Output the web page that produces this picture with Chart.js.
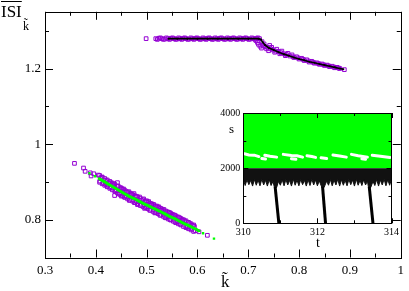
<!DOCTYPE html>
<html>
<head>
<meta charset="utf-8">
<script src="https://cdn.jsdelivr.net/npm/chart.js@4/dist/chart.umd.min.js"></script>
<style>
  body { margin: 0; background: #fff; }
  #wrap { position: relative; width: 409px; height: 291px; font-family: 'Liberation Serif', serif; }
  canvas { position: absolute; }
  .lbl { position: absolute; white-space: nowrap; color: #000; line-height: 1; }
</style>
</head>
<body>
<div id="wrap">
  <canvas id="main" width="409" height="291" style="left:0;top:0"></canvas>
  <canvas id="inset" width="184" height="146" style="left:218px;top:104px"></canvas>
  <div class="lbl" style="left:1px;top:3px;font-size:17px"><span style="text-decoration:overline">ISI</span></div>
  <div class="lbl" style="left:23px;top:20px;font-size:12px">k̃</div>
  <div class="lbl" style="left:221px;top:273px;font-size:17px">k̃</div>
  <div class="lbl" style="left:229px;top:122px;font-size:13px">s</div>
  <div class="lbl" style="left:316px;top:236px;font-size:14px">t</div>
</div>
<script>
// main axes
const xMajor = [0.3, 0.4, 0.5, 0.6, 0.7, 0.8, 0.9, 1];
const xMinor = [0.35, 0.45, 0.55, 0.65, 0.75, 0.85, 0.95];
const yMajor = [0.8, 1, 1.2];
const yMinor = [0.9, 1.1, 1.3];

// upper branch (k~, ISI)
const upperPurple = [
  [0.499, 1.279],
  [0.518, 1.279], [0.521, 1.277], [0.524, 1.28], [0.527, 1.281], [0.53, 1.279], [0.533, 1.277],
  [0.536, 1.278], [0.539, 1.281], [0.542, 1.279], [0.545, 1.277], [0.548, 1.28], [0.551, 1.281],
  [0.554, 1.279], [0.557, 1.277], [0.56, 1.278], [0.563, 1.281], [0.566, 1.279], [0.569, 1.277],
  [0.572, 1.28], [0.575, 1.281], [0.578, 1.279], [0.581, 1.277], [0.584, 1.278], [0.587, 1.281],
  [0.59, 1.279], [0.593, 1.277], [0.596, 1.28], [0.599, 1.281], [0.602, 1.279], [0.605, 1.277],
  [0.608, 1.278], [0.611, 1.281], [0.614, 1.279], [0.617, 1.277], [0.62, 1.28], [0.623, 1.281],
  [0.626, 1.279], [0.629, 1.277], [0.632, 1.278], [0.635, 1.281], [0.638, 1.279], [0.641, 1.277],
  [0.644, 1.28], [0.647, 1.281], [0.65, 1.279], [0.653, 1.277], [0.656, 1.278], [0.659, 1.281],
  [0.662, 1.279], [0.665, 1.277], [0.668, 1.28], [0.671, 1.281], [0.674, 1.279], [0.677, 1.277],
  [0.68, 1.278], [0.683, 1.281], [0.686, 1.279], [0.689, 1.277], [0.692, 1.28], [0.695, 1.281],
  [0.698, 1.279], [0.701, 1.277], [0.704, 1.278], [0.707, 1.281], [0.71, 1.279], [0.713, 1.277],
  [0.716, 1.28], [0.719, 1.281], [0.722, 1.279],
  [0.715, 1.274], [0.718, 1.269], [0.72, 1.264], [0.723, 1.259], [0.726, 1.254], [0.727, 1.271],
  [0.731, 1.265], [0.733, 1.258], [0.736, 1.252], [0.74, 1.247], [0.742, 1.261], [0.746, 1.256],
  [0.749, 1.249], [0.752, 1.243], [0.756, 1.251], [0.759, 1.245], [0.762, 1.239], [0.766, 1.246],
  [0.77, 1.239], [0.773, 1.234], [0.778, 1.24], [0.782, 1.233], [0.786, 1.236], [0.79, 1.229],
  [0.795, 1.231], [0.8, 1.225], [0.805, 1.227], [0.81, 1.221], [0.815, 1.223], [0.82, 1.217],
  [0.825, 1.219], [0.83, 1.214], [0.835, 1.215], [0.84, 1.211], [0.845, 1.212], [0.85, 1.208],
  [0.855, 1.209], [0.86, 1.205], [0.865, 1.206], [0.87, 1.202], [0.875, 1.203], [0.88, 1.2],
  [0.889, 1.197],
  [0.729, 1.26], [0.738, 1.256], [0.744, 1.252], [0.754, 1.246], [0.764, 1.242], [0.775, 1.237],
  [0.788, 1.231], [0.798, 1.228], [0.808, 1.224], [0.818, 1.22], [0.828, 1.216], [0.838, 1.213],
  [0.848, 1.21], [0.858, 1.207], [0.868, 1.204], [0.878, 1.201]
];
const upperBlack = [
  [0.543, 1.279], [0.56, 1.279], [0.58, 1.279], [0.6, 1.279], [0.62, 1.279], [0.64, 1.279],
  [0.66, 1.279], [0.68, 1.279], [0.7, 1.279], [0.72, 1.279], [0.725, 1.277], [0.728, 1.27],
  [0.733, 1.262], [0.74, 1.255], [0.75, 1.249], [0.76, 1.243], [0.77, 1.238], [0.78, 1.234],
  [0.79, 1.229], [0.8, 1.225], [0.81, 1.222], [0.82, 1.218], [0.83, 1.215], [0.84, 1.212],
  [0.85, 1.209], [0.86, 1.206], [0.87, 1.203], [0.88, 1.2], [0.887, 1.198]
];

// lower branch
const lowerGreenLine = [
  [0.406, 0.909], [0.415, 0.902], [0.425, 0.894], [0.435, 0.886], [0.445, 0.878], [0.455, 0.87],
  [0.465, 0.8625], [0.475, 0.856], [0.485, 0.849], [0.495, 0.842], [0.505, 0.836], [0.515, 0.829],
  [0.525, 0.823], [0.535, 0.816], [0.545, 0.809], [0.555, 0.803], [0.565, 0.796], [0.575, 0.789],
  [0.585, 0.783], [0.595, 0.776], [0.604, 0.77]
];
const lowerGreenDots = [[0.3875, 0.923], [0.3985, 0.915], [0.611, 0.764], [0.6325, 0.75]];
const lowerPurple = [
  [0.358, 0.949], [0.3758, 0.9367], [0.379, 0.928], [0.389, 0.924], [0.3907, 0.9157], [0.396, 0.9215],
  [0.4425, 0.898], [0.437, 0.864], [0.45, 0.8625], [0.433, 0.892], [0.603, 0.768], [0.6195, 0.7587],
  [0.405, 0.918], [0.408, 0.902], [0.412, 0.912], [0.415, 0.897], [0.42, 0.905], [0.422, 0.889],
  [0.428, 0.9], [0.43, 0.884], [0.436, 0.895], [0.438, 0.876], [0.444, 0.889], [0.446, 0.868],
  [0.45, 0.884], [0.455, 0.881], [0.456, 0.86], [0.46, 0.874], [0.465, 0.874], [0.466, 0.851],
  [0.47, 0.868], [0.475, 0.869], [0.476, 0.845], [0.48, 0.862], [0.482, 0.84], [0.486, 0.86],
  [0.488, 0.838], [0.494, 0.855], [0.496, 0.83], [0.5, 0.85], [0.504, 0.848], [0.506, 0.825],
  [0.51, 0.842], [0.514, 0.84], [0.516, 0.818], [0.52, 0.836], [0.524, 0.834], [0.526, 0.812],
  [0.53, 0.828], [0.534, 0.827], [0.536, 0.806], [0.54, 0.821], [0.545, 0.819], [0.546, 0.8],
  [0.55, 0.814], [0.555, 0.812], [0.556, 0.794], [0.56, 0.807], [0.565, 0.805], [0.566, 0.788],
  [0.57, 0.8], [0.575, 0.797], [0.577, 0.782], [0.585, 0.79], [0.587, 0.777], [0.594, 0.782],
  [0.596, 0.771],
  [0.41, 0.911], [0.42, 0.893], [0.43, 0.897], [0.44, 0.877], [0.45, 0.882], [0.46, 0.862],
  [0.47, 0.866], [0.48, 0.848], [0.49, 0.851], [0.5, 0.834], [0.51, 0.839], [0.52, 0.82],
  [0.53, 0.825], [0.54, 0.807], [0.55, 0.811], [0.56, 0.795], [0.57, 0.798], [0.58, 0.781],
  [0.59, 0.785],
  [0.4075, 0.917], [0.4075, 0.899], [0.4125, 0.913], [0.4125, 0.895], [0.4175, 0.909], [0.4175, 0.891],
  [0.4225, 0.905], [0.4225, 0.887], [0.4275, 0.901], [0.4275, 0.883], [0.4325, 0.897], [0.4325, 0.879],
  [0.4375, 0.893], [0.4375, 0.875], [0.4425, 0.889], [0.4425, 0.871], [0.4475, 0.885], [0.4475, 0.867],
  [0.4525, 0.881], [0.4525, 0.863], [0.4575, 0.877], [0.4575, 0.859], [0.4625, 0.873], [0.4625, 0.855],
  [0.4675, 0.87], [0.4675, 0.852], [0.4725, 0.866], [0.4725, 0.849], [0.4775, 0.863], [0.4775, 0.845],
  [0.4825, 0.86], [0.4825, 0.842], [0.4875, 0.856], [0.4875, 0.838], [0.4925, 0.853], [0.4925, 0.835],
  [0.4975, 0.849], [0.4975, 0.832], [0.5025, 0.846], [0.5025, 0.829], [0.5075, 0.843], [0.5075, 0.825],
  [0.5125, 0.84], [0.5125, 0.822], [0.5175, 0.836], [0.5175, 0.819], [0.5225, 0.833], [0.5225, 0.816],
  [0.5275, 0.83], [0.5275, 0.812], [0.5325, 0.826], [0.5325, 0.809], [0.5375, 0.823], [0.5375, 0.805],
  [0.5425, 0.82], [0.5425, 0.802], [0.5475, 0.817], [0.5475, 0.799], [0.5525, 0.813], [0.5525, 0.796],
  [0.5575, 0.81], [0.5575, 0.792], [0.5625, 0.807], [0.5625, 0.789], [0.5675, 0.803], [0.5675, 0.786],
  [0.5725, 0.8], [0.5725, 0.782], [0.5775, 0.797], [0.5775, 0.779], [0.5825, 0.793], [0.5825, 0.776],
  [0.5875, 0.789], [0.5875, 0.773], [0.5925, 0.786], [0.5925, 0.769]
];

// inset (t, s)
const insetXMajor = [310, 312, 314];
const insetXMinor = [311, 313];
const insetYMajor = [0, 2000, 4000];
const insetYMinor = [1000, 3000];
const greenBand = [[310, 4000], [314, 4000]];
const greenBandFloor = 2000;
const whiteStreaks = [
  [[310.03, 2520], [310.15, 2480], [310.3, 2470], [310.42, 2420]],
  [[310.58, 2470], [310.72, 2430], [310.9, 2400]],
  [[311.08, 2500], [311.3, 2460], [311.45, 2450], [311.6, 2400]],
  [[311.72, 2450], [311.85, 2420], [311.95, 2390]],
  [[312.1, 2380], [312.25, 2350]],
  [[312.42, 2480], [312.6, 2440], [312.78, 2400]],
  [[312.92, 2500], [313.1, 2450], [313.35, 2400]],
  [[313.48, 2470], [313.7, 2430], [313.96, 2390]],
  [[310.5, 2350], [310.6, 2330]],
  [[311.3, 2340], [311.42, 2320]],
  [[313.2, 2340], [313.3, 2320]]
];
const combEdge = [
  [310, 1600], [310.05, 1370], [310.1, 1580], [310.15, 1400], [310.2, 1560], [310.25, 1350],
  [310.3, 1590], [310.35, 1380], [310.4, 1570], [310.45, 1360], [310.5, 1600], [310.55, 1390],
  [310.6, 1560], [310.65, 1350], [310.7, 1580], [310.75, 1370], [310.8, 1520], [310.84, 1300],
  [310.9, 1300], [310.95, 1520], [311.0, 1380], [311.05, 1580], [311.1, 1360], [311.15, 1590],
  [311.2, 1390], [311.25, 1560], [311.3, 1350], [311.35, 1600], [311.4, 1380], [311.45, 1570],
  [311.5, 1360], [311.55, 1590], [311.6, 1400], [311.65, 1560], [311.7, 1350], [311.75, 1580],
  [311.8, 1370], [311.85, 1600], [311.9, 1390], [311.95, 1570], [312.0, 1360], [312.05, 1540],
  [312.12, 1300], [312.18, 1300], [312.25, 1530], [312.3, 1380], [312.35, 1590], [312.4, 1360],
  [312.45, 1570], [312.5, 1390], [312.55, 1600], [312.6, 1350], [312.65, 1580], [312.7, 1380],
  [312.75, 1560], [312.8, 1360], [312.85, 1590], [312.9, 1400], [312.95, 1570], [313.0, 1350],
  [313.05, 1600], [313.1, 1380], [313.15, 1560], [313.2, 1370], [313.25, 1580], [313.3, 1390],
  [313.35, 1530], [313.38, 1300], [313.44, 1300], [313.5, 1520], [313.55, 1370], [313.6, 1590],
  [313.65, 1350], [313.7, 1570], [313.75, 1390], [313.8, 1600], [313.85, 1360], [313.9, 1580],
  [313.95, 1380], [314, 1590]
];
const combTop = 2000;
const drops = [
  [[310.86, 1320], [310.96, 0]],
  [[312.14, 1320], [312.22, 0]],
  [[313.4, 1320], [313.5, 0]]
];

const FONT = "'Liberation Serif', serif";
const pts = arr => arr.map(([x, y]) => ({ x, y }));
const fmt = v => String(+v.toFixed(2));

function frameTicks(xTicks, yTicks) {
  return {
    id: 'frameTicks',
    afterDraw(chart) {
      const { ctx, chartArea: a, scales } = chart;
      ctx.save();
      ctx.strokeStyle = '#000';
      ctx.lineWidth = 1;
      ctx.beginPath();
      for (const [v, len] of xTicks) {
        const p = Math.round(scales.x.getPixelForValue(v)) + 0.5;
        ctx.moveTo(p, a.bottom); ctx.lineTo(p, a.bottom - len);
        ctx.moveTo(p, a.top); ctx.lineTo(p, a.top + len);
      }
      for (const [v, len] of yTicks) {
        const p = Math.round(scales.y.getPixelForValue(v)) + 0.5;
        ctx.moveTo(a.left, p); ctx.lineTo(a.left + len, p);
        ctx.moveTo(a.right, p); ctx.lineTo(a.right - len, p);
      }
      ctx.stroke();
      ctx.strokeRect(Math.round(a.left) + 0.5, Math.round(a.top) + 0.5,
        Math.round(a.right - a.left), Math.round(a.bottom - a.top));
      ctx.restore();
    }
  };
}

const whiteArea = {
  id: 'whiteArea',
  beforeDatasetsDraw(chart) {
    const { ctx, chartArea: a } = chart;
    ctx.save();
    ctx.fillStyle = '#fff';
    ctx.fillRect(a.left, a.top, a.right - a.left, a.bottom - a.top);
    ctx.restore();
  }
};

function axis(min, max, major, fontSize, pad, fit) {
  return {
    type: 'linear', min, max,
    grid: { display: false, drawTicks: false },
    border: { display: false },
    ticks: {
      autoSkip: false, maxRotation: 0, padding: pad, color: '#000',
      font: { family: FONT, size: fontSize },
      callback: v => fmt(v)
    },
    afterBuildTicks: s => { s.ticks = major.map(v => ({ value: v })); },
    afterFit: fit
  };
}

new Chart(document.getElementById('main').getContext('2d'), {
  type: 'scatter',
  data: {
    datasets: [
      {
        data: pts(lowerGreenLine), showLine: true, borderColor: '#00ff00', borderWidth: 3,
        pointStyle: 'rect', pointRadius: 1.5, pointBackgroundColor: '#00ff00', pointBorderWidth: 0, order: 1
      },
      {
        data: pts(lowerGreenDots), pointStyle: 'rect', pointRadius: 1.7,
        pointBackgroundColor: '#00ff00', pointBorderWidth: 0, order: 1
      },
      {
        data: pts(upperBlack), showLine: true, borderColor: '#000', borderWidth: 1.6,
        pointRadius: 1, pointBackgroundColor: '#000', pointBorderWidth: 0, order: 1
      },
      {
        data: pts(upperPurple), pointStyle: 'rect', pointRadius: 2.6, pointBorderWidth: 1,
        pointBorderColor: '#9400d3', pointBackgroundColor: 'rgba(0,0,0,0)', order: 2
      },
      {
        data: pts(lowerPurple), pointStyle: 'rect', pointRadius: 2.6, pointBorderWidth: 1,
        pointBorderColor: '#9400d3', pointBackgroundColor: 'rgba(0,0,0,0)', order: 2
      }
    ]
  },
  options: {
    responsive: false, animation: false, devicePixelRatio: 1,
    layout: { padding: { left: 0, right: 4, top: 1, bottom: 0 } },
    plugins: { legend: { display: false }, tooltip: { enabled: false } },
    scales: {
      x: axis(0.3, 1, xMajor, 13, 5, s => { s.height = 33.5; }),
      y: axis(0.7, 1.35, yMajor, 13, 4, s => { s.width = 45; })
    }
  },
  plugins: [frameTicks(
    xMajor.map(v => [v, 8]).concat(xMinor.map(v => [v, 4])),
    yMajor.map(v => [v, 8]).concat(yMinor.map(v => [v, 4]))
  )]
});

new Chart(document.getElementById('inset').getContext('2d'), {
  type: 'scatter',
  data: {
    datasets: [
      ...drops.map(d => ({
        data: pts(d), showLine: true, borderColor: '#000', borderWidth: 3, pointRadius: 0, order: 1
      })),
      {
        data: pts(combEdge), showLine: true, borderColor: '#111', borderWidth: 1,
        backgroundColor: '#111', fill: { value: combTop }, pointRadius: 0, order: 2
      },
      ...whiteStreaks.map(d => ({
        data: pts(d), showLine: true, borderColor: '#fff', borderWidth: 3,
        borderCapStyle: 'round', pointRadius: 0, order: 3
      })),
      {
        data: pts(greenBand), showLine: true, borderWidth: 0, borderColor: '#00ff00',
        backgroundColor: '#00ff00', fill: { value: greenBandFloor }, pointRadius: 0, order: 4
      }
    ]
  },
  options: {
    responsive: false, animation: false, devicePixelRatio: 1,
    layout: { padding: { left: 0, right: 5.3, top: 6, bottom: 0 } },
    plugins: { legend: { display: false }, tooltip: { enabled: false } },
    scales: {
      x: axis(310, 314, insetXMajor, 10, 3, s => { s.height = 26.7; }),
      y: axis(0, 4000, insetYMajor, 10, 3, s => { s.width = 25.3; })
    }
  },
  plugins: [whiteArea, frameTicks(
    insetXMajor.map(v => [v, 5]).concat(insetXMinor.map(v => [v, 3])),
    insetYMajor.map(v => [v, 5]).concat(insetYMinor.map(v => [v, 3]))
  )]
});
</script>
</body>
</html>
